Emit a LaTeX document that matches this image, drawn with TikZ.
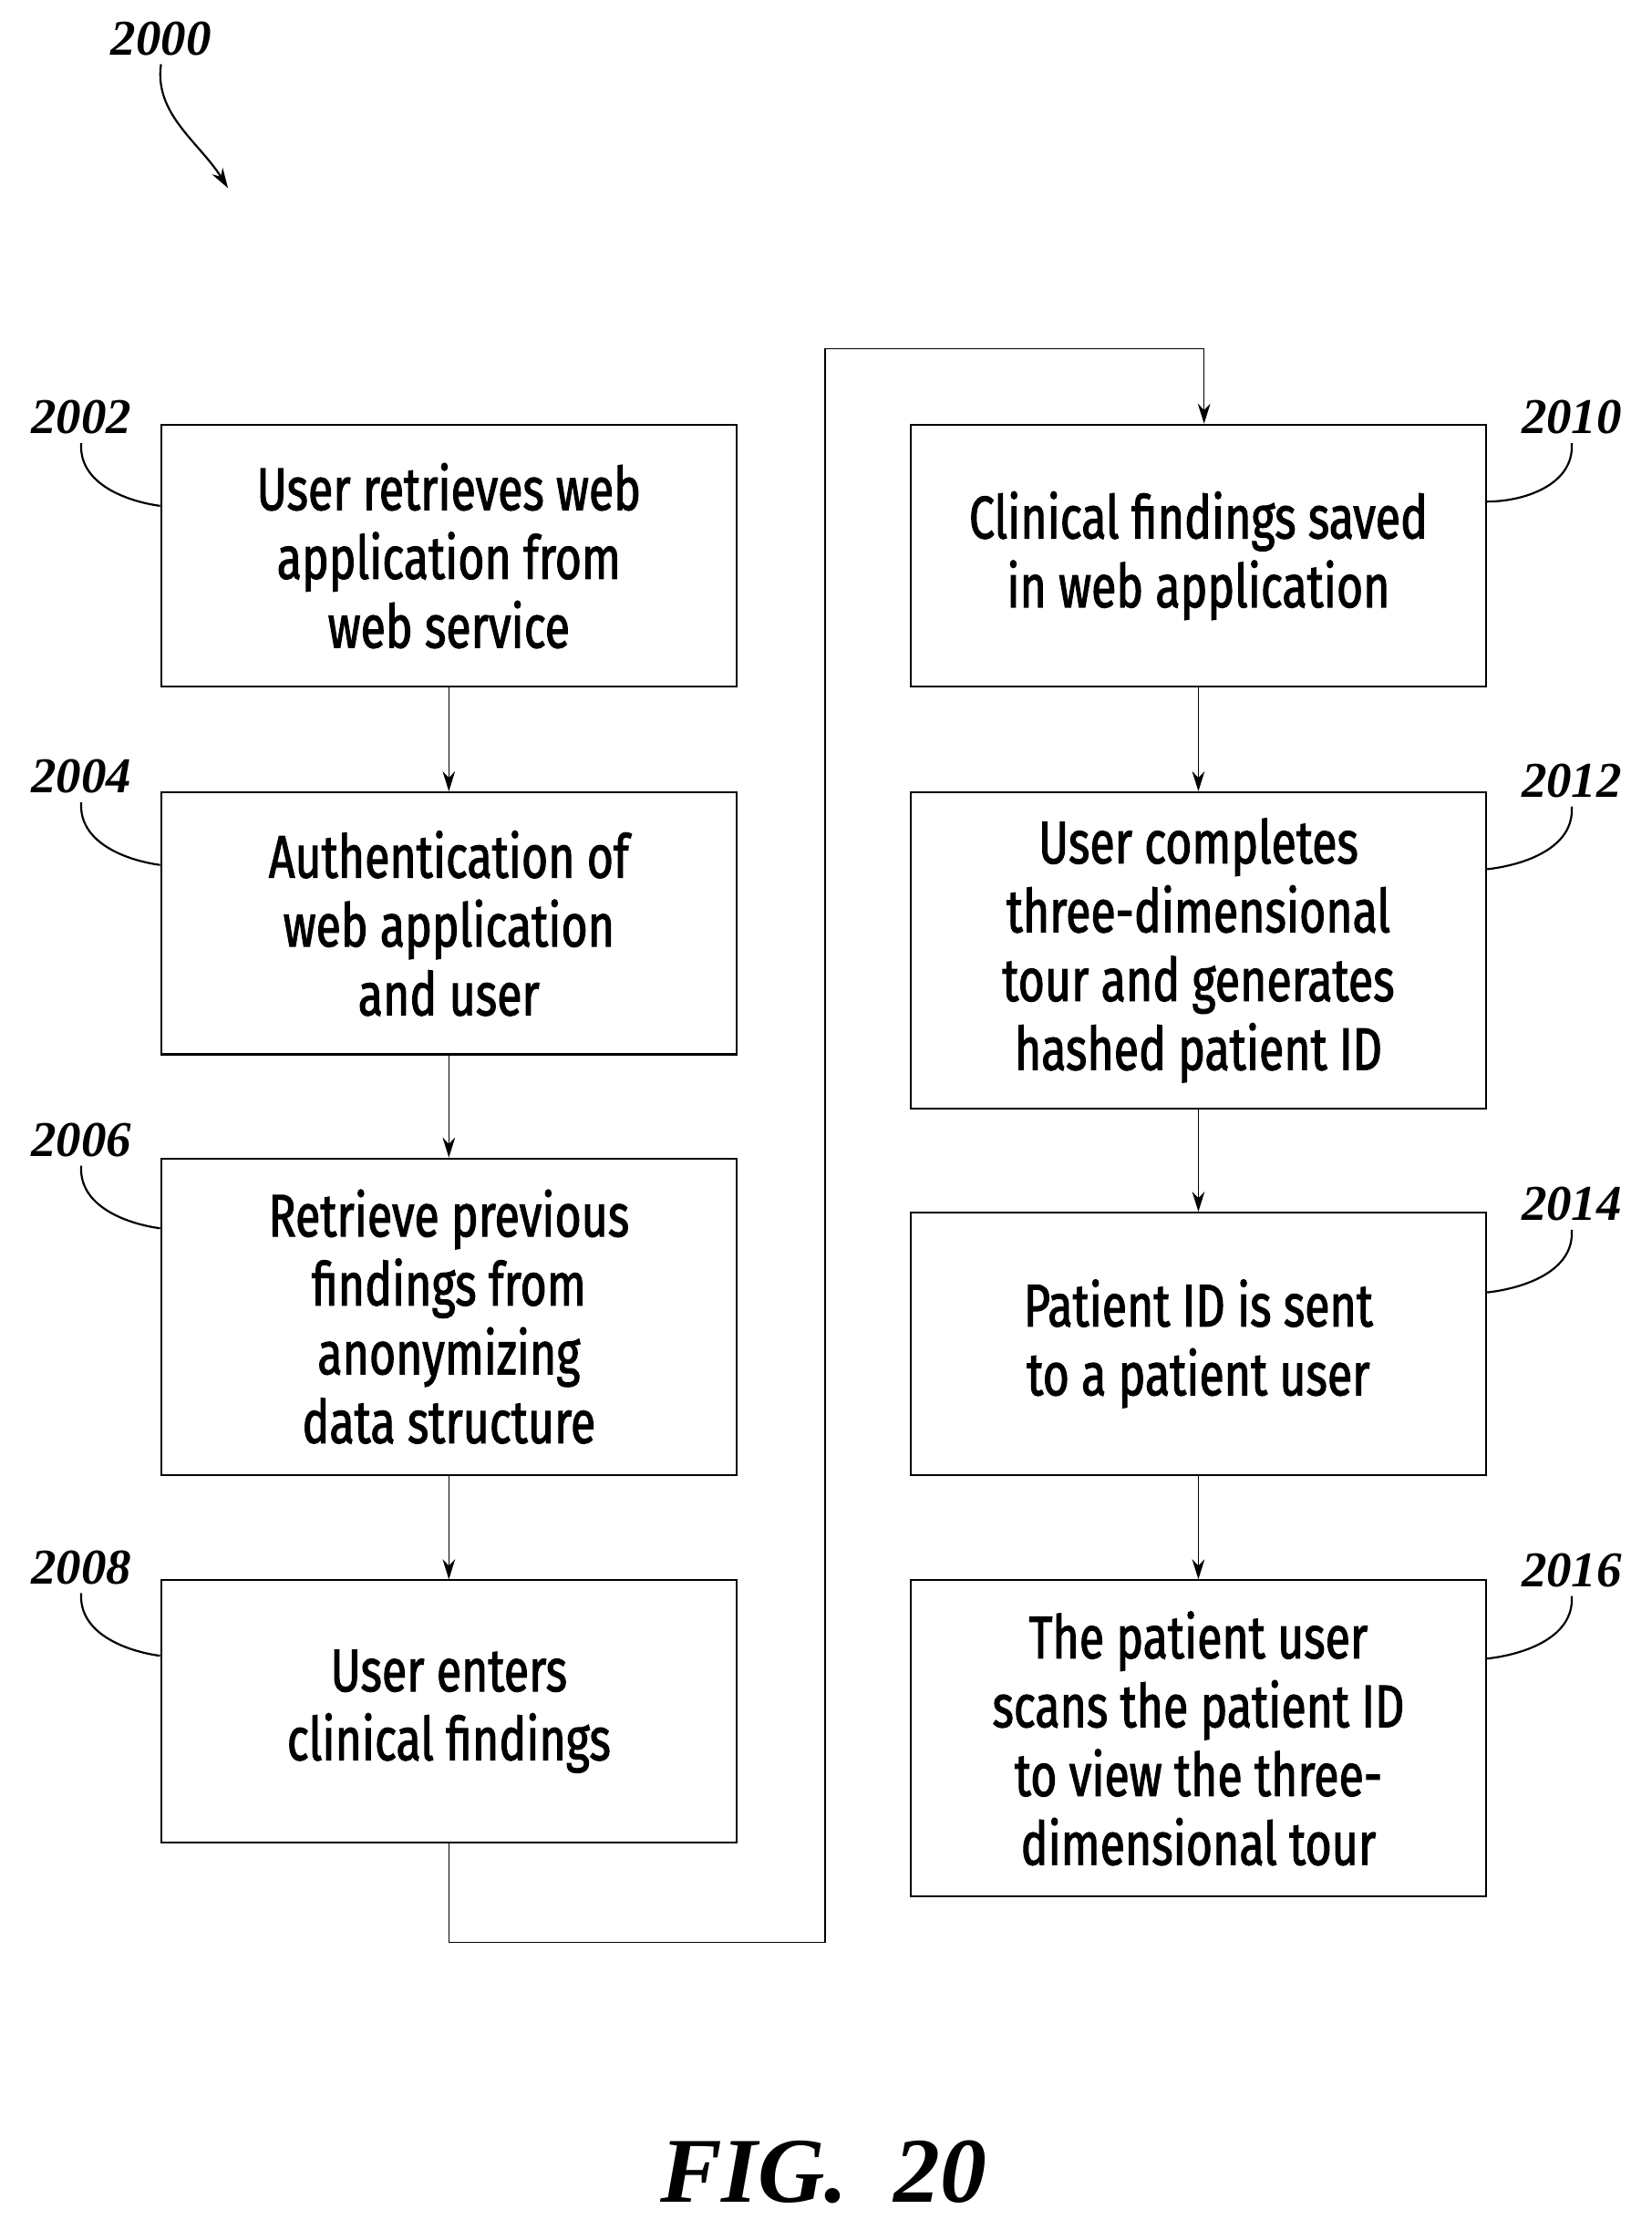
\documentclass[tikz,border=0pt]{standalone}
\usepackage{fontspec}
\setmainfont{Liberation Serif}
\newfontfamily\boxfont[FakeStretch=0.76,FakeBold=1.6]{Fira Sans}
\usetikzlibrary{arrows.meta}

\tikzset{
  stage/.style={draw, thick, align=center, minimum width=8.08cm, font=\boxfont\fontsize{24}{27.5}\selectfont},
  tag/.style={font=\bfseries\itshape\fontsize{20}{22}\selectfont},
  flow/.style={-{Stealth[length=8pt,width=5pt]}, thin},
  lead/.style={thick}
}

\begin{document}
\begin{tikzpicture}[x=0.02cm, y=-0.02cm]
	\useasboundingbox (0,0) rectangle (1159,1565);

		% left column
		\node (s2002) [stage, minimum height=3.68cm] at (315,390) {User retrieves web\\application from\\web service};
		\node (s2004) [stage, minimum height=3.68cm] at (315,648) {Authentication of\\web application\\and user};
		\node (s2006) [stage, minimum height=4.44cm] at (315,924) {Retrieve previous\\findings from\\anonymizing\\data structure};
		\node (s2008) [stage, minimum height=3.68cm] at (315,1201) {User enters\\clinical findings};

		% right column
		\node (s2010) [stage, minimum height=3.68cm] at (841,390) {Clinical findings saved\\in web application};
		\node (s2012) [stage, minimum height=4.44cm] at (841,667) {User completes\\three-dimensional\\tour and generates\\hashed patient ID};
		\node (s2014) [stage, minimum height=3.68cm] at (841,943) {Patient ID is sent\\to a patient user};
		\node (s2016) [stage, minimum height=4.44cm] at (841,1220) {The patient user\\scans the patient ID\\to view the three-\\dimensional tour};

		\draw[flow] (s2002) -- (s2004);
		\draw[flow] (s2004) -- (s2006);
		\draw[flow] (s2006) -- (s2008);
		\draw[flow] (s2008.south) |- (579,1363) |- (845,245) -- (s2010.north -| 845,0);
		\draw[flow] (s2010) -- (s2012);
		\draw[flow] (s2012) -- (s2014);
		\draw[flow] (s2014) -- (s2016);

		% reference numerals
		\node (n2000) [tag] at (113,27) {2000};
		\draw[flow, thick] (n2000.south) .. controls (108,80) and (140,100) .. (160,132);

		\node (n2002) [tag] at (57,293) {2002};
		\draw[lead] (n2002.south) .. controls (55,340) and (90,352) .. (s2002.west |- 0,355);
		\node (n2004) [tag] at (57,545) {2004};
		\draw[lead] (n2004.south) .. controls (55,592) and (90,604) .. (s2004.west |- 0,607);
		\node (n2006) [tag] at (57,800) {2006};
		\draw[lead] (n2006.south) .. controls (55,847) and (90,859) .. (s2006.west |- 0,862);
		\node (n2008) [tag] at (57,1100) {2008};
		\draw[lead] (n2008.south) .. controls (55,1147) and (90,1159) .. (s2008.west |- 0,1162);

		\node (n2010) [tag] at (1103,293) {2010};
		\draw[lead] (n2010.south) .. controls (1105,340) and (1070,352) .. (s2010.east |- 0,352);
		\node (n2012) [tag] at (1103,548) {2012};
		\draw[lead] (n2012.south) .. controls (1105,595) and (1070,607) .. (s2012.east |- 0,610);
		\node (n2014) [tag] at (1103,845) {2014};
		\draw[lead] (n2014.south) .. controls (1105,892) and (1070,904) .. (s2014.east |- 0,907);
		\node (n2016) [tag] at (1103,1102) {2016};
		\draw[lead] (n2016.south) .. controls (1105,1149) and (1070,1161) .. (s2016.east |- 0,1164);

		\node (fig) [font=\bfseries\itshape\fontsize{37}{40}\selectfont] at (578,1524) {FIG.\ \ 20};
	\end{tikzpicture}
\end{document}
